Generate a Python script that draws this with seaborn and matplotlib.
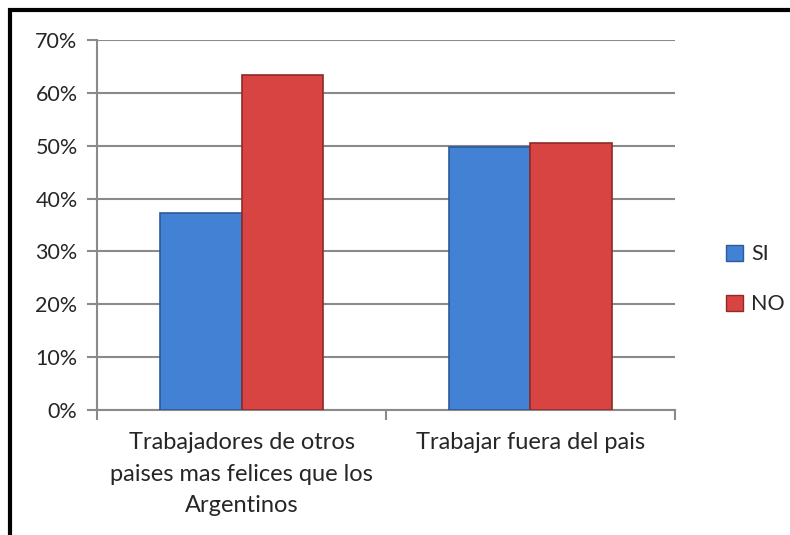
import matplotlib
matplotlib.use("Agg")
import matplotlib.pyplot as plt
import matplotlib.patches as mpatches
import matplotlib.ticker as mticker
import seaborn as sns
import pandas as pd

# data
categorias = ["Trabajadores de otros\npaises mas felices que los\nArgentinos", "Trabajar fuera del pais"]
respuestas = ["SI", "NO"]
si_vals = [37.3, 49.8]
no_vals = [63.3, 50.5]

df = pd.DataFrame({
    "categoria": categorias * 2,
    "respuesta": ["SI"] * 2 + ["NO"] * 2,
    "valor": si_vals + no_vals,
})

sns.set_style("white")
plt.rcParams["font.family"] = ["Lato", "DejaVu Sans"]

colores = {"SI": "#4281d4", "NO": "#d84442"}
bordes = {"SI": "#2c5a9a", "NO": "#8e2a28"}

fig = plt.figure(figsize=(7.9, 5.35), dpi=100)
ax = fig.add_axes([0.1228, 0.2336, 0.7316, 0.6916])

sns.barplot(data=df, x="categoria", y="valor", hue="respuesta", hue_order=respuestas,
            palette=colores, width=0.567, gap=0, ax=ax, legend=False, saturation=1)

for cont, r in zip(ax.containers, respuestas):
    for bar in cont:
        bar.set_edgecolor(bordes[r])
        bar.set_linewidth(1.2)
        bar.set_zorder(3)

ax.set_xlim(-0.5, 1.5)
ax.set_ylim(0, 70)
ax.set_yticks(range(0, 71, 10))
ax.yaxis.set_major_formatter(mticker.FuncFormatter(lambda v, p: f"{int(v)}%"))
ax.grid(axis="y", color="#8a8a8a", linewidth=1.5, zorder=0)
ax.set_axisbelow(True)
ax.set_xlabel("")
ax.set_ylabel("")

for s in ["top", "right"]:
    ax.spines[s].set_visible(False)
for s in ["left", "bottom"]:
    ax.spines[s].set_color("#8a8a8a")
    ax.spines[s].set_linewidth(1.5)

ax.tick_params(axis="y", length=7, width=1.5, color="#8a8a8a", labelsize=15.5, pad=7, left=True)
ax.set_xticks([-0.5, 0.5, 1.5], minor=False)
ax.set_xticklabels([])
ax.set_xticks([0, 1], minor=True)
ax.set_xticklabels(categorias, minor=True, fontsize=17, linespacing=1.62, va="top")
ax.tick_params(axis="x", which="major", length=7, width=1.5, color="#8a8a8a", bottom=True)
ax.tick_params(axis="x", which="minor", length=0, pad=16)

handles = [mpatches.Patch(facecolor=colores[r], edgecolor=bordes[r], label=r) for r in respuestas]
fig.legend(handles=handles, loc="center left", bbox_to_anchor=(0.895, 0.478), frameon=False,
           fontsize=15.5, handlelength=0.75, handleheight=0.75, labelspacing=1.4, handletextpad=0.4)

# outer frame of the chart area
frame = mpatches.Rectangle((0.0127, -0.2), 1.2, 1.181, transform=fig.transFigure,
                           fill=False, edgecolor="black", linewidth=3, clip_on=False)
fig.patches.append(frame)

fig.savefig("out.png", dpi=100)
